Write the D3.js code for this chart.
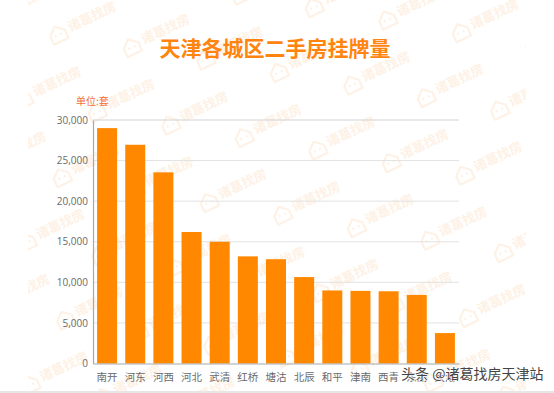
<!DOCTYPE html>
<html><head><meta charset="utf-8">
<script src="https://cdn.jsdelivr.net/npm/d3@7"></script>
<style>html,body{margin:0;padding:0;background:#fff;overflow:hidden}svg{display:block}text{font-family:"Noto Sans CJK SC","Noto Sans",sans-serif}</style>
</head><body><svg id="c" width="554" height="393"></svg>
<script>
const categories=["南开","河东","河西","河北","武清","红桥","塘沽","北辰","和平","津南","西青","东丽","大港"];
const values=[29000,26950,23550,16200,15000,13200,12850,10650,9000,8950,8900,8450,3750];
const yTicks=[0,5000,10000,15000,20000,25000,30000];
const title="天津各城区二手房挂牌量";
const unit="单位:套";
const credit="头条 @诸葛找房天津站";
const watermarkText="诸葛找房";

const svg=d3.select("#c");
const wmColor="#fef1e5";
svg.append("defs").append("clipPath").attr("id","wmclip").append("rect").attr("x",28).attr("y",0).attr("width",498).attr("height",393);
// repeating page watermark on a skewed lattice
const wmOrigins=[];
d3.range(-6,10).forEach(i=>d3.range(-2,8).forEach(j=>{
  const px=58+73.5*i-35*j+0, py=34+12.5*i+65*j;
  if(px>-40&&px<600&&py>-30&&py<420) wmOrigins.push([px,py]);
}));
const wm=svg.append("g").attr("clip-path","url(#wmclip)").selectAll("g").data(wmOrigins).join("g")
  .attr("transform",d=>`translate(${d[0]},${d[1]}) rotate(-25)`);
wm.append("path").attr("d","M-8,-1 L0,-8 L8,-1 L8,8 L-8,8 Z").attr("fill","none").attr("stroke",wmColor).attr("stroke-width",2.2).attr("stroke-linejoin","round");
wm.append("circle").attr("cx",-3).attr("cy",1).attr("r",1.2).attr("fill",wmColor);
wm.append("circle").attr("cx",3).attr("cy",1).attr("r",1.2).attr("fill",wmColor);
wm.append("text").attr("x",12).attr("y",3).attr("font-size",13).attr("font-weight",700).attr("fill",wmColor).text(watermarkText);

const x=d3.scaleBand().domain(categories).range([93,459]).paddingInner(0.29).paddingOuter(0.145);
const y=d3.scaleLinear().domain([0,30000]).range([363.5,120]);

svg.append("g").selectAll("line").data(yTicks.slice(1)).join("line")
  .attr("x1",93).attr("x2",459).attr("y1",d=>y(d)).attr("y2",d=>y(d))
  .attr("stroke",d=>d===30000?"#d2d2d2":"#e2e2e2").attr("stroke-width",1);

svg.append("g").selectAll("rect").data(values).join("rect")
  .attr("x",(d,i)=>x(categories[i])).attr("width",x.bandwidth())
  .attr("y",d=>y(d)).attr("height",d=>y(0)-y(d)).attr("fill","#ff8800");

const yAxis=svg.append("g").attr("transform","translate(93,0)").call(d3.axisLeft(y).tickValues(yTicks).tickFormat(d3.format(",")).tickSize(0).tickPadding(5));
yAxis.select(".domain").attr("stroke","#a8a8a8").attr("stroke-width",1.2);
yAxis.selectAll("text").attr("font-size",10).attr("fill","#6a6a6a").style("font-family","'Open Sans',sans-serif");
const xAxis=svg.append("g").attr("transform","translate(0,363.5)").call(d3.axisBottom(x).tickSize(0).tickPadding(10));
xAxis.select(".domain").attr("stroke","#a8a8a8").attr("stroke-width",1.2);
xAxis.selectAll("text").attr("font-size",10.5).attr("fill","#6a6a6a").style("font-family","'Noto Sans CJK SC',sans-serif");

svg.append("text").attr("x",275).attr("y",55.5).attr("text-anchor","middle").attr("font-size",21).attr("font-weight",700).attr("fill","#ff8410").text(title);
svg.append("text").attr("x",76).attr("y",105).attr("font-size",10).attr("fill","#f2703a").text(unit);

svg.append("rect").attr("x",0).attr("y",391).attr("width",554).attr("height",2).attr("fill","#e6e6e6");
svg.append("text").attr("x",401).attr("y",379).attr("font-size",14).attr("fill","#444").attr("stroke","#fff").attr("stroke-width",1.2).attr("paint-order","stroke").text(credit);
</script></body></html>
